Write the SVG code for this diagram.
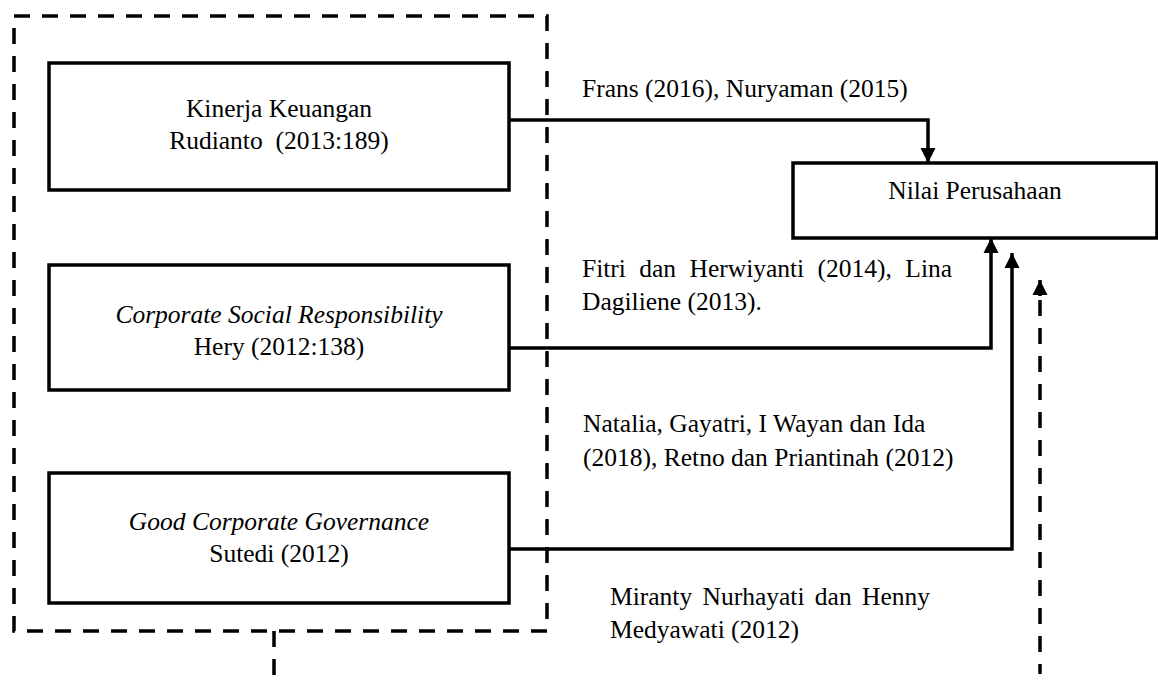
<svg xmlns="http://www.w3.org/2000/svg" width="1158" height="685" viewBox="0 0 1158 685">
<style>
text{font-family:"Liberation Serif","Times New Roman",serif;font-size:25.5px;fill:#000}
.c{text-anchor:middle}
.i{font-style:italic}
.box{fill:#fff;stroke:#000;stroke-width:3.5}
.dash{fill:none;stroke:#000;stroke-width:3.5;stroke-dasharray:16 12}
.ln{fill:none;stroke:#000;stroke-width:3.5}
</style>
<defs>
<marker id="ah" viewBox="0 0 10 10" refX="10" refY="5" markerWidth="4.3" markerHeight="4.3" markerUnits="strokeWidth" orient="auto">
<path d="M0,0 L10,5 L0,10 z" fill="#000"/>
</marker>
</defs>
<rect width="1158" height="685" fill="#fff"/>
<g id="group-frame">
<rect class="dash" x="14" y="16" width="533" height="615"/>
<line class="dash" x1="274" y1="631" x2="274" y2="676"/>
</g>
<g id="connectors">
<path class="ln" d="M509,120 H928 V163" marker-end="url(#ah)"/>
<path class="ln" d="M509,348 H991 V238" marker-end="url(#ah)"/>
<path class="ln" d="M509,549 H1012 V253" marker-end="url(#ah)"/>
<line class="ln" x1="1040" y1="296" x2="1040" y2="280" marker-end="url(#ah)"/>
<line class="dash" x1="1040" y1="300" x2="1040" y2="674"/>
</g>
<g id="node-kinerja">
<rect class="box" x="49" y="63" width="460" height="127"/>
<text class="c" x="279" y="117">Kinerja Keuangan</text>
<text class="c" x="279" y="149" xml:space="preserve">Rudianto  (2013:189)</text>
</g>
<g id="node-csr">
<rect class="box" x="49" y="265" width="460" height="125"/>
<text class="c i" x="279" y="323">Corporate Social Responsibility</text>
<text class="c" x="279" y="355">Hery (2012:138)</text>
</g>
<g id="node-gcg">
<rect class="box" x="49" y="473" width="460" height="130"/>
<text class="c i" x="279" y="530">Good Corporate Governance</text>
<text class="c" x="279" y="562">Sutedi (2012)</text>
</g>
<g id="node-nilai">
<rect class="box" x="793" y="163" width="364" height="75"/>
<text class="c" x="975" y="199">Nilai Perusahaan</text>
</g>
<g id="labels">
<text x="582" y="97">Frans (2016), Nuryaman (2015)</text>
<text x="582" y="277" word-spacing="7">Fitri dan Herwiyanti (2014), Lina</text>
<text x="582" y="310">Dagiliene (2013).</text>
<text x="583" y="432">Natalia, Gayatri, I Wayan dan Ida</text>
<text x="583" y="466">(2018), Retno dan Priantinah (2012)</text>
<text x="610" y="605" word-spacing="4">Miranty Nurhayati dan Henny</text>
<text x="610" y="638">Medyawati (2012)</text>
</g>
</svg>
